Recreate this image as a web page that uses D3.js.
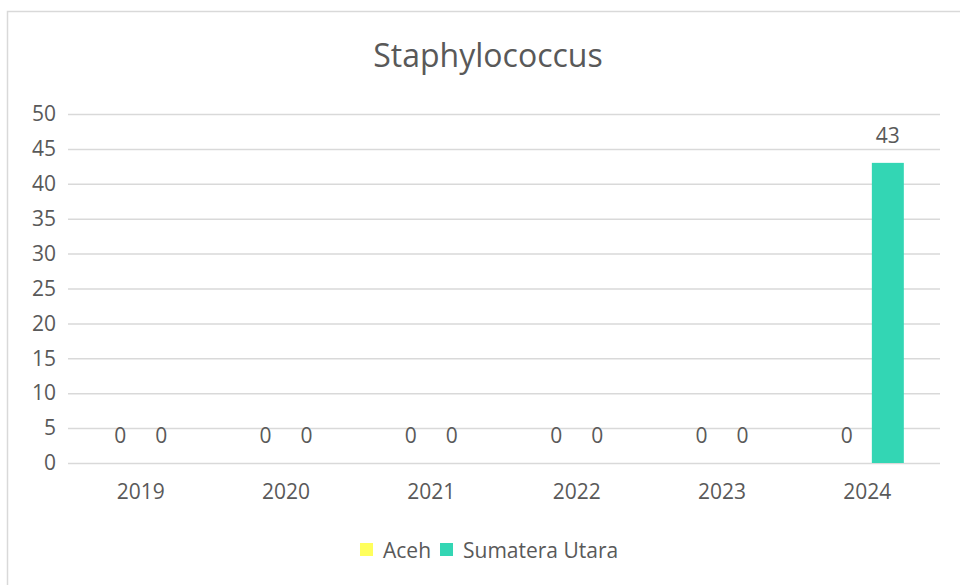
<!DOCTYPE html>
<html>
<head>
<meta charset="utf-8">
<script src="https://cdn.jsdelivr.net/npm/d3@7"></script>
<style>
  body { margin: 0; background: #fff; }
  text { font-family: "Open Sans", sans-serif; fill: #595959; }
</style>
</head>
<body>
<div id="chart"></div>
<script>
const years = ["2019", "2020", "2021", "2022", "2023", "2024"];
const seriesNames = ["Aceh", "Sumatera Utara"];
const aceh = [0, 0, 0, 0, 0, 0];
const sumut = [0, 0, 0, 0, 0, 43];
const yTicks = [0, 5, 10, 15, 20, 25, 30, 35, 40, 45, 50];
const colors = ["#ffff5c", "#33d6b4"];

const width = 960;
const height = 585;
const margin = {top: 114, right: 20, bottom: 122, left: 68};
const innerW = 940 - margin.left;
const innerH = 463 - margin.top;

const svg = d3.select("#chart")
    .append("svg")
    .attr("width", width)
    .attr("height", height);

// chart border
svg.append("rect")
    .attr("x", 7.5)
    .attr("y", 11.5)
    .attr("width", 970)
    .attr("height", 600)
    .attr("fill", "none")
    .attr("stroke", "#d9d9d9")
    .attr("stroke-width", 1.5);

// title
svg.append("text")
    .attr("x", 488)
    .attr("y", 67)
    .attr("text-anchor", "middle")
    .style("font-size", "32px")
    .text("Staphylococcus");

const g = svg.append("g")
    .attr("transform", `translate(${margin.left},${margin.top})`);

const x0 = d3.scaleBand()
    .domain(years)
    .range([0, innerW]);

const x1 = d3.scaleBand()
    .domain(seriesNames)
    .range([x0.bandwidth() / 2 - 36.5, x0.bandwidth() / 2 + 36.5])
    .paddingInner(0.22);

const y = d3.scaleLinear()
    .domain([0, 50])
    .range([innerH, 0]);

// gridlines
g.append("g")
    .call(d3.axisLeft(y).tickValues(yTicks).tickSize(-innerW).tickFormat(""))
    .call(s => s.select(".domain").remove())
    .selectAll("line")
    .attr("stroke", "#d9d9d9")
    .attr("stroke-width", 1.5);

// y axis labels
g.append("g")
    .call(d3.axisLeft(y).tickValues(yTicks).tickSize(0).tickPadding(12))
    .call(s => s.select(".domain").remove())
    .selectAll("text")
    .style("font-size", "21px")
    .attr("fill", "#595959");

// x axis labels
g.append("g")
    .attr("transform", `translate(0,${innerH})`)
    .call(d3.axisBottom(x0).tickSize(0).tickPadding(21))
    .call(s => s.select(".domain").remove())
    .selectAll("text")
    .style("font-size", "21px")
    .attr("fill", "#595959");

const rows = years.map((yr, i) => ({year: yr, values: [aceh[i], sumut[i]]}));

const groups = g.selectAll(".year")
    .data(rows)
    .enter()
    .append("g")
    .attr("transform", d => `translate(${x0(d.year)},0)`);

const cells = groups.selectAll(".cell")
    .data(d => d.values.map((v, k) => ({name: seriesNames[k], value: v, k: k})))
    .enter();

cells.append("rect")
    .attr("x", d => x1(d.name))
    .attr("y", d => y(d.value))
    .attr("width", x1.bandwidth())
    .attr("height", d => innerH - y(d.value))
    .attr("fill", d => colors[d.k]);

cells.append("text")
    .attr("x", d => x1(d.name) + x1.bandwidth() / 2)
    .attr("y", d => y(d.value) - 20)
    .attr("text-anchor", "middle")
    .style("font-size", "21px")
    .attr("fill", "#404040")
    .text(d => d.value);

// legend
const legend = svg.append("g").attr("transform", "translate(360,550)");
const legendItems = [{name: "Aceh", x: 0}, {name: "Sumatera Utara", x: 80}];
legendItems.forEach((item, k) => {
    legend.append("rect")
        .attr("x", item.x)
        .attr("y", -7)
        .attr("width", 13)
        .attr("height", 13)
        .attr("fill", colors[k]);
    legend.append("text")
        .attr("x", item.x + 23)
        .attr("y", 7.5)
        .style("font-size", "21px")
        .text(item.name);
});
</script>
</body>
</html>
